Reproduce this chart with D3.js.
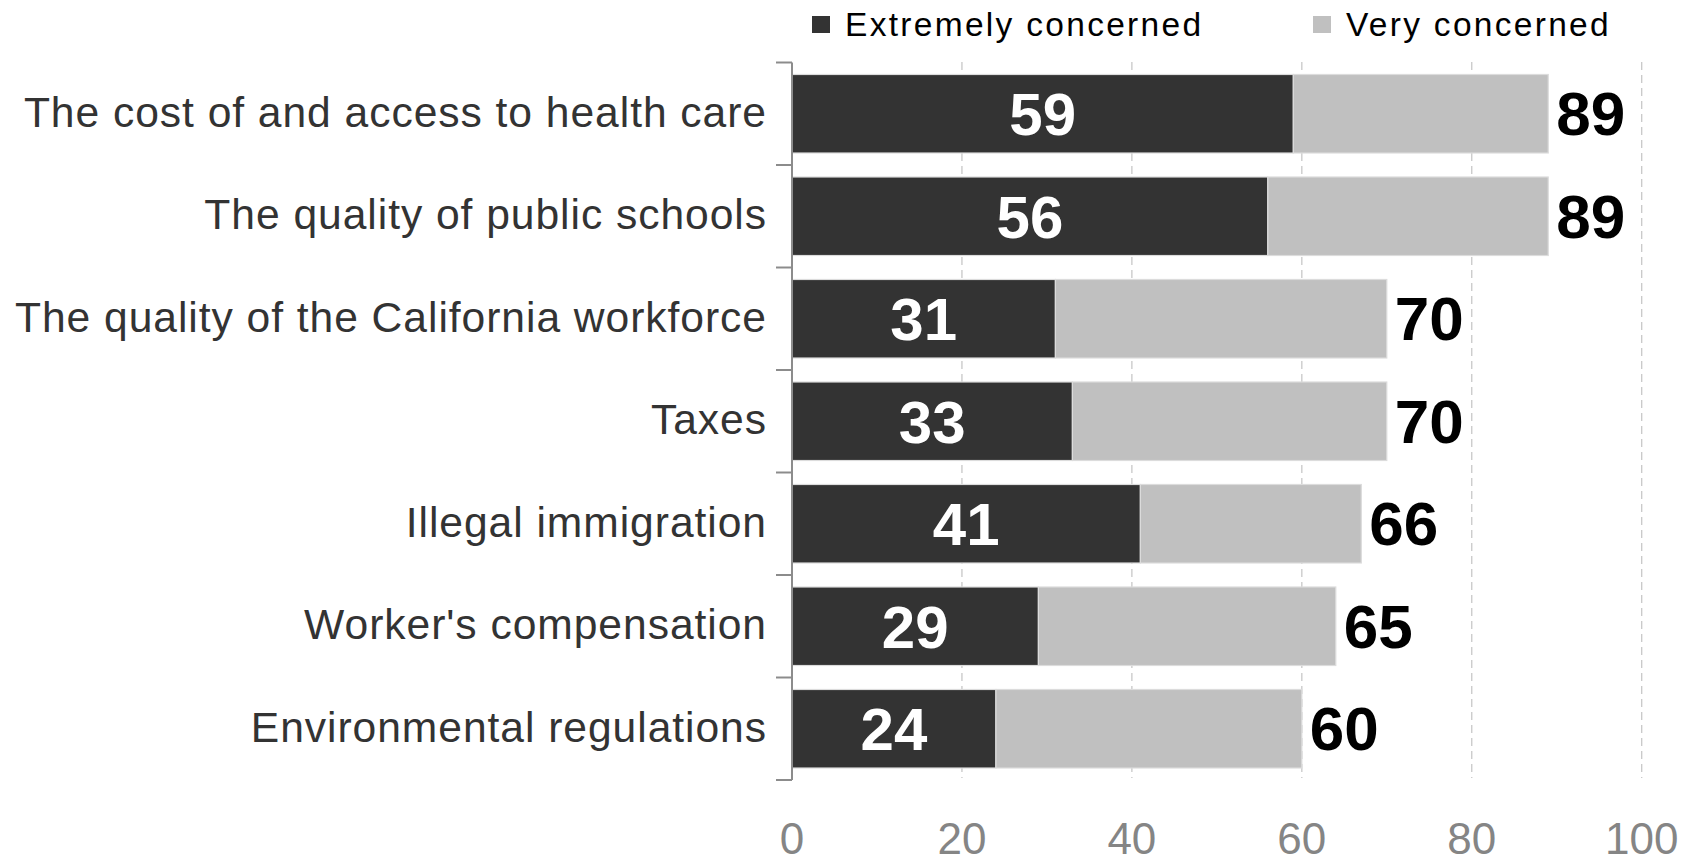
<!DOCTYPE html>
<html>
<head>
<meta charset="utf-8">
<script src="https://cdn.jsdelivr.net/npm/d3@7"></script>
<style>
  html, body { margin: 0; padding: 0; background: #fff; }
  svg { display: block; }
</style>
</head>
<body>
<svg id="chart" width="1694" height="859"></svg>
<script>
const categories = [
  "The cost of and access to health care",
  "The quality of public schools",
  "The quality of the California workforce",
  "Taxes",
  "Illegal immigration",
  "Worker's compensation",
  "Environmental regulations"
];
const extremely = [59, 56, 31, 33, 41, 29, 24];
const very = [30, 33, 39, 37, 26, 35, 36];
const totals = [89, 89, 70, 70, 66, 65, 60];
const xTicks = [0, 20, 40, 60, 80, 100];
const seriesNames = ["Extremely concerned", "Very concerned"];
const colors = ["#333333", "#c0c0c0"];

const svg = d3.select("#chart");
const x = d3.scaleLinear().domain([0, 100]).range([792, 1641.7]);
const y = d3.scaleBand().domain(categories).range([62.5, 780]).paddingInner(0.234).paddingOuter(0.117);

// gridlines
svg.append("g").selectAll("line").data(xTicks.filter(t => t > 0)).join("line")
  .attr("x1", d => x(d)).attr("x2", d => x(d))
  .attr("y1", 62).attr("y2", 778)
  .attr("stroke", "#c8c8c8").attr("stroke-width", 1.3)
  .attr("stroke-dasharray", "8,5");

// stacked bars
const rows = categories.map((c, i) => ({cat: c, ext: extremely[i], very: very[i], total: totals[i]}));
const stack = d3.stack().keys(["ext", "very"])(rows);
svg.append("g").selectAll("g").data(stack).join("g")
  .attr("fill", (d, i) => colors[i])
  .selectAll("rect").data(d => d).join("rect")
  .attr("x", d => x(d[0]))
  .attr("width", d => x(d[1]) - x(d[0]))
  .attr("y", d => y(d.data.cat))
  .attr("height", y.bandwidth())
  .attr("stroke", "#dcdcdc").attr("stroke-width", 1.2);

// y axis line and ticks
const axisG = svg.append("g");
axisG.append("line").attr("x1", x(0)).attr("x2", x(0)).attr("y1", y.range()[0]).attr("y2", y.range()[1])
  .attr("stroke", "#8c8c8c").attr("stroke-width", 2);
axisG.selectAll("line.tick").data(d3.range(categories.length + 1)).join("line")
  .attr("class", "tick")
  .attr("x1", x(0) - 16).attr("x2", x(0))
  .attr("y1", i => y.range()[0] + i * y.step())
  .attr("y2", i => y.range()[0] + i * y.step())
  .attr("stroke", "#8c8c8c").attr("stroke-width", 2);

// category labels
svg.append("g").selectAll("text").data(categories).join("text")
  .attr("x", 767)
  .attr("y", d => y(d) + y.bandwidth() / 2)
  .attr("dy", "0.3em")
  .attr("text-anchor", "end")
  .attr("font-family", "Liberation Sans, Arial, sans-serif")
  .attr("font-size", 42.6)
  .style("letter-spacing", "0.95px")
  .attr("fill", "#333333")
  .text(d => d);

// inside labels
svg.append("g").selectAll("text").data(rows).join("text")
  .attr("x", d => x(d.ext / 2))
  .attr("y", d => y(d.cat) + y.bandwidth() / 2)
  .attr("dy", "0.36em")
  .attr("text-anchor", "middle")
  .attr("font-family", "Liberation Sans, Arial, sans-serif")
  .attr("font-weight", "bold")
  .attr("font-size", 60)
  .attr("fill", "#ffffff")
  .text(d => d.ext);

// total labels
svg.append("g").selectAll("text").data(rows).join("text")
  .attr("x", d => x(d.ext + d.very) + 8)
  .attr("y", d => y(d.cat) + y.bandwidth() / 2)
  .attr("dy", "0.35em")
  .attr("text-anchor", "start")
  .attr("font-family", "Liberation Sans, Arial, sans-serif")
  .attr("font-weight", "bold")
  .attr("font-size", 62)
  .attr("fill", "#000000")
  .text(d => d.total);

// x axis tick labels
svg.append("g").selectAll("text").data(xTicks).join("text")
  .attr("x", d => x(d))
  .attr("y", 854)
  .attr("text-anchor", "middle")
  .attr("font-family", "Liberation Sans, Arial, sans-serif")
  .attr("font-size", 44)
  .attr("fill", "#858585")
  .text(d => d);

// legend
const legendX = [812, 1313];
const lg = svg.append("g").selectAll("g").data(seriesNames).join("g")
  .attr("transform", (d, i) => `translate(${legendX[i]},0)`);
lg.append("rect").attr("x", 0).attr("y", 16).attr("width", 18).attr("height", 17)
  .attr("fill", (d, i) => colors[i]);
lg.append("text").attr("x", 33).attr("y", 35.5)
  .attr("font-family", "Liberation Sans, Arial, sans-serif")
  .attr("font-size", 33.5)
  .style("letter-spacing", "2.3px")
  .attr("fill", "#000")
  .text(d => d);
</script>
</body>
</html>
